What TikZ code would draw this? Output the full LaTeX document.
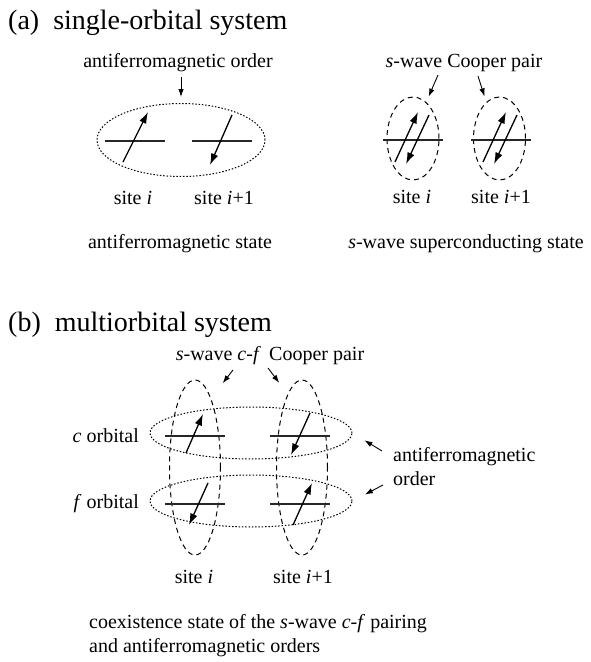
\documentclass[tikz,border=0pt]{standalone}
\usepackage{fontspec}
\setmainfont{Liberation Serif}
\usetikzlibrary{arrows.meta,shapes.geometric,calc}
\newcommand\figlabelfont{\fontsize{20}{24}\selectfont}
\newcommand\figheadfont{\fontsize{28}{34}\selectfont}
\begin{document}
\begin{tikzpicture}[x=1pt,y=-1pt,
    every node/.style={font=\figlabelfont,inner sep=0pt},
    head/.style={font=\figheadfont,anchor=base west},
    spin/.style={line width=1.3pt,-{Latex[length=11.5pt,width=7.5pt]}},
    level/.style={line width=1.1pt,black!85},
    pointer/.style={line width=0.9pt,-{Latex[length=8pt,width=5.5pt]}},
    dotell/.style={ellipse,draw,line width=1pt,dash pattern=on 1.5pt off 1.8pt},
    dashell/.style={ellipse,draw,line width=1pt,dash pattern=on 5pt off 4pt}]
    \useasboundingbox (0,0) rectangle (591,662);
    % (a) single-orbital system
    \node[head] (heada) at (8,29) {(a)~~single-orbital system};
    \coordinate (a1) at (135,141); \coordinate (a2) at (222,141);
    \coordinate (b1) at (413,140); \coordinate (b2) at (501,140);
    \node[dotell,minimum width=168pt,minimum height=73pt] (afell) at (181,140) {};
    \node[dashell,minimum width=52pt,minimum height=83pt] (sc1) at (413,138.5) {};
    \node[dashell,minimum width=52pt,minimum height=83pt] (sc2) at (499.5,138.5) {};
    \draw[level] ($(a1)+(-30,0)$) -- ($(a1)+(30,0)$);
    \draw[level] ($(a2)+(-30,0)$) -- ($(a2)+(30,0)$);
    \draw[level] ($(b1)+(-30,0)$) -- ($(b1)+(30,0)$);
    \draw[level] ($(b2)+(-30,0)$) -- ($(b2)+(30,0)$);
    \draw[spin] ($(a1)+(-12,21)$) -- ($(a1)+(13,-29)$);
    \draw[spin] ($(a2)+(10,-26)$) -- ($(a2)+(-12,24)$);
    \draw[spin] ($(b1)+(-18,22)$) -- ($(b1)+(5,-28)$);
    \draw[spin] ($(b1)+(16,-25)$) -- ($(b1)+(-7,24)$);
    \draw[spin] ($(b2)+(-18,22)$) -- ($(b2)+(5,-28)$);
    \draw[spin] ($(b2)+(16,-25)$) -- ($(b2)+(-7,24)$);
    \node[anchor=base] (afo) at (178,67) {antiferromagnetic order};
    \node[anchor=base] (scp) at (464,67) {\textit{s}-wave Cooper pair};
    \coordinate (afotail) at (181,77);
    \coordinate (scptailA) at (438,75); \coordinate (scptailB) at (478,76);
    \draw[pointer,shorten >=6pt] (afotail) -- (afell.north);
    \draw[pointer,shorten >=6pt] (scptailA) -- (sc1.70);
    \draw[pointer,shorten >=6pt] (scptailB) -- (sc2.110);
    \node[anchor=base] (sa1) at (133,204) {site \textit{i}};
    \node[anchor=base] (sa2) at (224,204) {site \textit{i}+1};
    \node[anchor=base] (sb1) at (412,203) {site \textit{i}};
    \node[anchor=base] (sb2) at (501,203) {site \textit{i}+1};
    \node[anchor=base] (afs) at (180,248) {antiferromagnetic state};
    \node[anchor=base] (scs) at (466,248) {\textit{s}-wave superconducting state};
    % (b) multiorbital system
    \node[head] (headb) at (8,331) {(b)~~multiorbital system};
    \coordinate (c1) at (195,436); \coordinate (c2) at (300,436);
    \coordinate (f1) at (195,504); \coordinate (f2) at (300,504);
    \node[dashell,minimum width=51pt,minimum height=175pt] (cf1) at (195,467.5) {};
    \node[dashell,minimum width=51pt,minimum height=175pt] (cf2) at (302,467.5) {};
    \node[dotell,minimum width=202pt,minimum height=52pt] (corb) at (251,433) {};
    \node[dotell,minimum width=202pt,minimum height=52pt] (forb) at (251,501) {};
    \draw[level] ($(c1)+(-30,0)$) -- ($(c1)+(30,0)$);
    \draw[level] ($(c2)+(-30,0)$) -- ($(c2)+(30,0)$);
    \draw[level] ($(f1)+(-30,0)$) -- ($(f1)+(30,0)$);
    \draw[level] ($(f2)+(-30,0)$) -- ($(f2)+(30,0)$);
    \draw[spin] ($(c1)+(-9,17)$) -- ($(c1)+(8,-22)$);
    \draw[spin] ($(c2)+(10,-23)$) -- ($(c2)+(-9,19)$);
    \draw[spin] ($(f1)+(13,-21)$) -- ($(f1)+(-6,21)$);
    \draw[spin] ($(f2)+(-7,21)$) -- ($(f2)+(12,-21)$);
    \node[anchor=base] (cfp) at (270,360) {\textit{s}-wave \textit{c}-\textit{f}\, Cooper pair};
    \coordinate (cfptailA) at (233,370); \coordinate (cfptailB) at (268,368);
    \draw[pointer,shorten >=19pt] (cfptailA) -- (cf1.77);
    \draw[pointer,shorten >=14pt] (cfptailB) -- (cf2.101);
    \node[anchor=east] (corbl) at (139,436) {\textit{c} orbital};
    \node[anchor=east] (forbl) at (139,504) {\textit{f} orbital};
    \node[anchor=west,align=left] (afo2) at (393,467) {antiferromagnetic\\order};
    \coordinate (afotailA) at (382,451); \coordinate (afotailB) at (383,485);
    \draw[pointer,shorten >=14pt] (afotailA) -- (corb.east);
    \draw[pointer,shorten >=14pt] (afotailB) -- (forb.east);
    \node[anchor=base] (sc1l) at (194,583) {site \textit{i}};
    \node[anchor=base] (sc2l) at (303,583) {site \textit{i}+1};
    \node[anchor=north west,align=left] (coex) at (89,614) {coexistence state of the \textit{s}-wave \textit{c}-\textit{f} pairing\\and antiferromagnetic orders};
\end{tikzpicture}
\end{document}
